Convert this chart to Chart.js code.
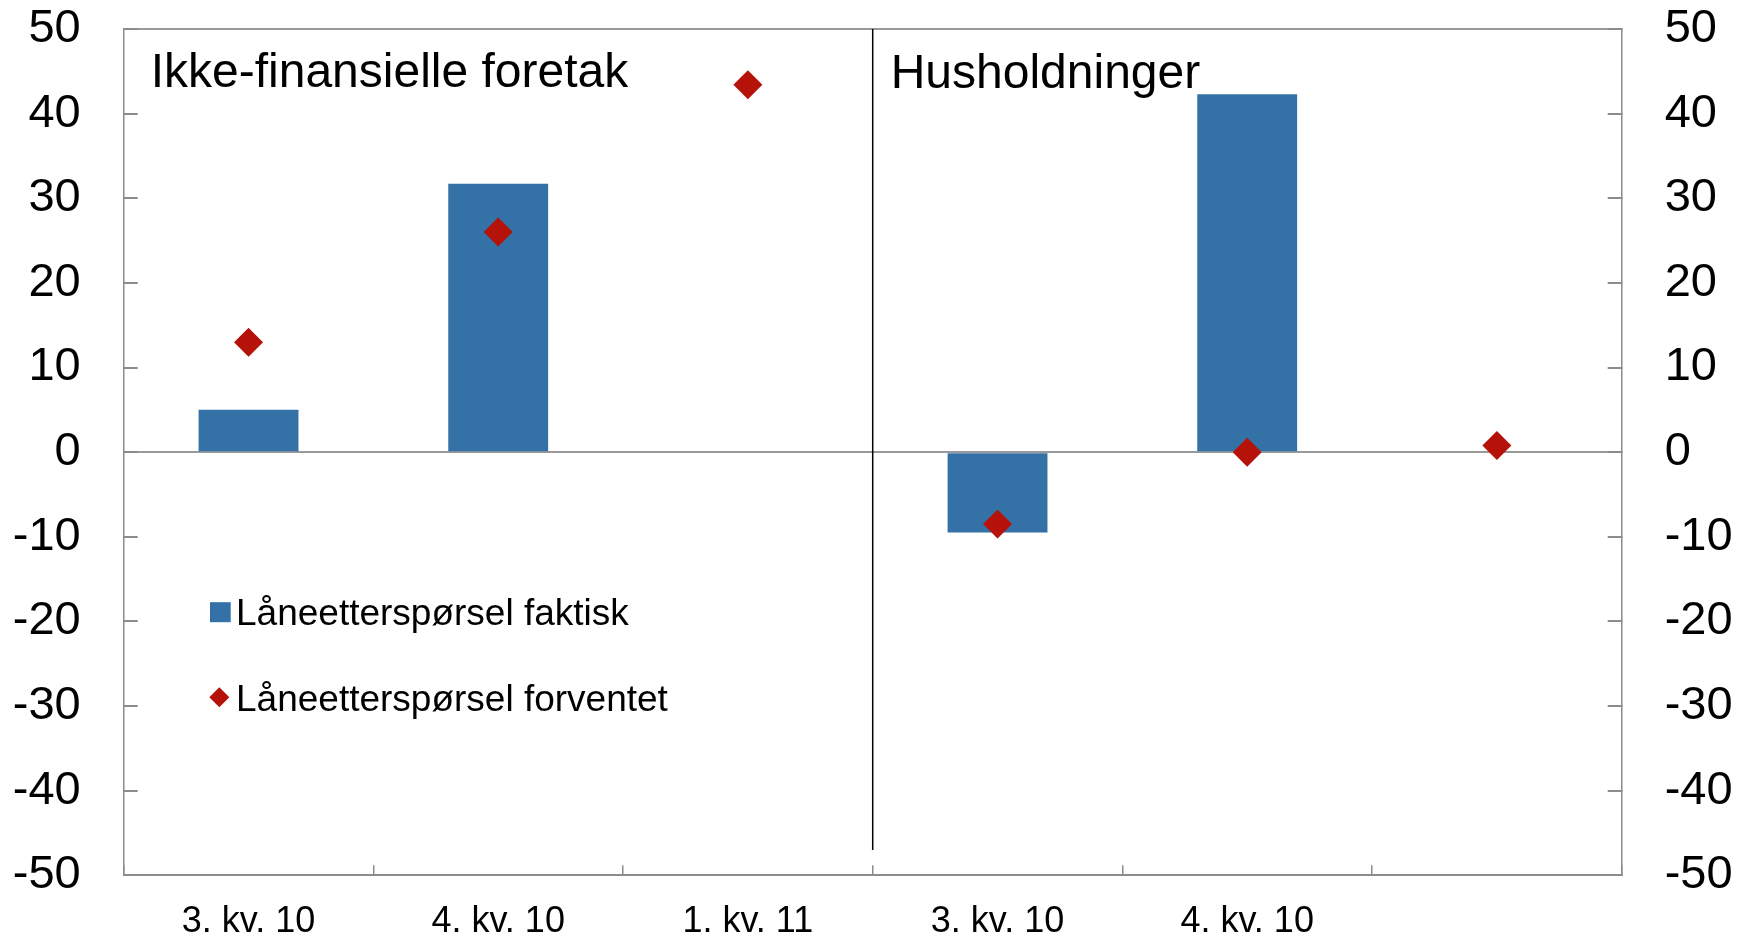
<!DOCTYPE html>
<html lang="no">
<head>
    <meta charset="UTF-8">
    <meta name="viewport" content="width=device-width, initial-scale=1.0">
    <title>Låneetterspørsel</title>
    <script src="https://cdn.jsdelivr.net/npm/chart.js"></script>
    <style>
        body { margin: 0; background: #fff; }
        canvas { display: block; }
    </style>
</head>
<body>
    <canvas id="grafico1" width="1748" height="939"></canvas>

    <script>
        // data
        const kategorier = ['3. kv. 10', '4. kv. 10', '1. kv. 11', '3. kv. 10', '4. kv. 10', ''];
        const faktisk = [5, 31.7, null, -9.5, 42.3, null];
        const forventet = [13, 26, 43.4, -8.5, 0, 0.8];
        const yTicks = [-50, -40, -30, -20, -10, 0, 10, 20, 30, 40, 50];
        const seriesNavn = ['Låneetterspørsel faktisk', 'Låneetterspørsel forventet'];
        const paneler = ['Ikke-finansielle foretak', 'Husholdninger'];
        const skilleBunn = -47;   // where the panel divider stops

        const blaa = '#3471a6';
        const roed = '#b5120a';
        const graa = '#8c8c8c';
        const font = 'Liberation Sans, Arial, sans-serif';

        Chart.defaults.font.family = font;
        Chart.defaults.color = '#000';

        const nullPadding = s => {
            s.paddingTop = 0; s.paddingBottom = 0;
            s.paddingLeft = 0; s.paddingRight = 0;
        };

        const yAkse = (pos, bredde) => ({
            position: pos,
            min: yTicks[0],
            max: yTicks[yTicks.length - 1],
            afterBuildTicks: s => { s.ticks = yTicks.map(v => ({ value: v })) },
            ticks: { font: { size: 47 }, color: '#000', padding: 57 },
            grid: {
                drawOnChartArea: pos === 'left',
                color: c => (c.tick && (c.tick.value === 0 || c.tick.value === 50)) ? '#999' : 'rgba(0,0,0,0)',
                lineWidth: 2,
                tickColor: graa,
                tickLength: -14
            },
            border: { color: graa, width: 1.5 },
            afterFit: s => { s.width = bredde; nullPadding(s) }
        });

        // panel titles, divider and legend
        const pynt = {
            id: 'pynt',
            afterDatasetsDraw(chart) {
                const { ctx, chartArea, scales: { x, y } } = chart;
                const skilleX = (x.getPixelForValue(2) + x.getPixelForValue(3)) / 2;

                ctx.save();
                ctx.strokeStyle = '#000';
                ctx.lineWidth = 1.5;
                ctx.beginPath();
                ctx.moveTo(skilleX, y.getPixelForValue(50));
                ctx.lineTo(skilleX, y.getPixelForValue(skilleBunn));
                ctx.stroke();

                ctx.fillStyle = '#000';
                ctx.textBaseline = 'alphabetic';
                ctx.font = '48px ' + font;
                ctx.fillText(paneler[0], chartArea.left + 27, chartArea.top + 58.3);
                ctx.fillText(paneler[1], skilleX + 18, chartArea.top + 58.5);

                // legend
                const lx = chartArea.left + 86.3;
                const rad1 = chartArea.top + 583.2;
                const rad2 = chartArea.top + 668.3;
                ctx.fillStyle = blaa;
                ctx.fillRect(lx, rad1 - 10, 20.7, 20);
                ctx.fillStyle = roed;
                ctx.beginPath();
                ctx.moveTo(lx - 0.7, rad2);
                ctx.lineTo(lx + 9.3, rad2 - 10);
                ctx.lineTo(lx + 19.3, rad2);
                ctx.lineTo(lx + 9.3, rad2 + 10);
                ctx.closePath();
                ctx.fill();

                ctx.fillStyle = '#000';
                ctx.font = '37px ' + font;
                ctx.fillText(seriesNavn[0], lx + 26, rad1 + 13.2);
                ctx.fillText(seriesNavn[1], lx + 26, rad2 + 13.4);
                ctx.restore();
            }
        };

        const ctx = document.getElementById('grafico1');

        let grafico1 = new Chart(ctx, {
            type: 'bar',
            data: {
                labels: kategorier,
                datasets: [{
                    label: seriesNavn[0],
                    data: faktisk,
                    backgroundColor: blaa,
                    barPercentage: 0.4,
                    categoryPercentage: 1,
                    order: 1
                }, {
                    type: 'line',
                    label: seriesNavn[1],
                    data: forventet,
                    showLine: false,
                    pointStyle: 'rectRot',
                    pointRadius: 14.5,
                    pointBackgroundColor: roed,
                    pointBorderWidth: 0,
                    order: 0
                }]
            },
            options: {
                responsive: false,
                animation: false,
                layout: { padding: { top: 29, left: 0, right: 0, bottom: 0 } },
                plugins: {
                    legend: { display: false },
                    tooltip: { enabled: false }
                },
                scales: {
                    x: {
                        offset: true,
                        grid: {
                            offset: true,
                            drawOnChartArea: false,
                            tickColor: graa,
                            tickLength: -10,
                            lineWidth: 1.5
                        },
                        border: { color: graa, width: 2 },
                        ticks: { font: { size: 36 }, color: '#000', padding: 35, maxRotation: 0, autoSkip: false },
                        afterFit: s => { s.height = 63.7; nullPadding(s) }
                    },
                    y: yAkse('left', 123.7),
                    y2: yAkse('right', 126.3)
                }
            },
            plugins: [pynt]
        });
    </script>
</body>
</html>
